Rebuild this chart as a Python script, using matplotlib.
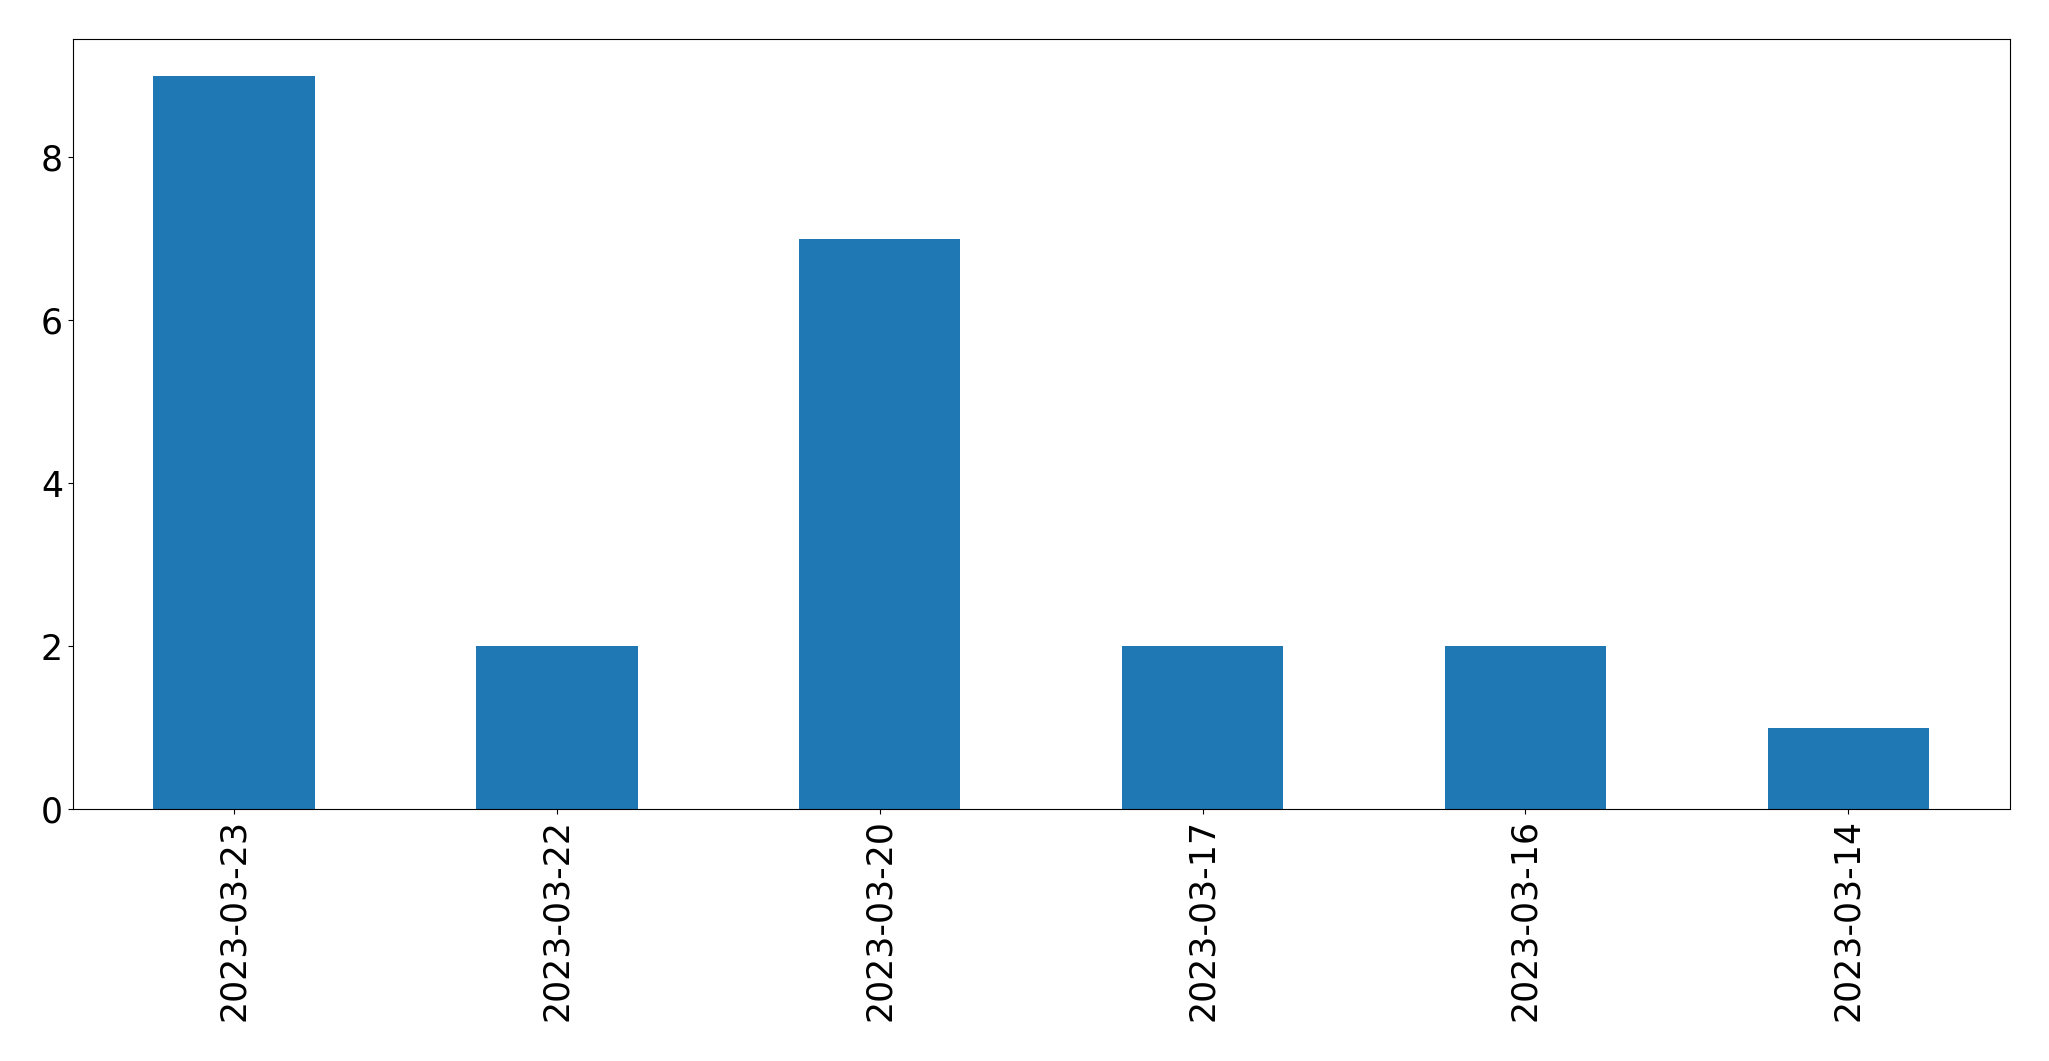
import matplotlib.pyplot as plt
import pandas as pd

dates = ["2023-03-23", "2023-03-22", "2023-03-20", "2023-03-17", "2023-03-16", "2023-03-14"]
counts = [9, 2, 7, 2, 2, 1]

s = pd.Series(counts, index=dates)

fig = plt.figure(figsize=(20.49, 10.61), dpi=100)
ax = fig.add_axes([0.0355, 0.2375, 0.9453, 0.7255])
s.plot(kind="bar", ax=ax, color="#1f77b4", fontsize=25)
ax.tick_params(axis="x", labelrotation=90)

fig.savefig("out.png", dpi=100)
